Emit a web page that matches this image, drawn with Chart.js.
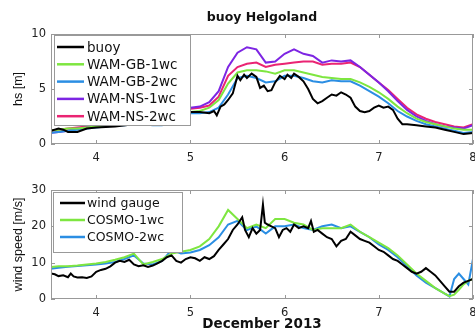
<!DOCTYPE html>
<html>
<head>
<meta charset="utf-8">
<script src="https://cdn.jsdelivr.net/npm/chart.js@4.4.1/dist/chart.umd.min.js"></script>
<style>
  html, body { margin: 0; padding: 0; background: #fff; }
  #wrap { position: relative; width: 475px; height: 333px; overflow: hidden; }
  canvas { position: absolute; left: 0; }
  #hsChart { top: 0; }
  #windChart { top: 170px; }
</style>
</head>
<body>
<div id="wrap">
  <canvas id="hsChart" width="475" height="170"></canvas>
  <canvas id="windChart" width="475" height="163"></canvas>
</div>
<script>
// days of December 2013
const xTicks = [4, 5, 6, 7, 8];
const hsTicks = [0, 5, 10];
const windTicks = [0, 10, 20, 30];

// significant wave height [m], buoy Helgoland
const tBuoy = [3.52, 3.6, 3.65, 3.7, 3.8, 3.9, 4.0, 4.2, 4.4, 4.6, 4.8, 5.0, 5.1, 5.2, 5.25, 5.28, 5.32, 5.36, 5.4, 5.45,
  5.5, 5.53, 5.57, 5.6, 5.65, 5.7, 5.74, 5.78, 5.82, 5.86, 5.9, 5.95, 6.0, 6.03, 6.07, 6.1, 6.15, 6.2, 6.25, 6.3,
  6.35, 6.4, 6.45, 6.5, 6.55, 6.6, 6.65, 6.7, 6.75, 6.8, 6.85, 6.9, 6.95, 7.0, 7.05, 7.1, 7.15, 7.2, 7.25, 7.3,
  7.4, 7.5, 7.6, 7.7, 7.8, 7.9, 8.0];
const buoyHs = [1.2, 1.4, 1.3, 1.1, 1.1, 1.4, 1.5, 1.6, 1.8, 2.0, 2.3, 2.9, 2.9, 2.8, 3.0, 2.6, 3.4, 3.6, 4.0, 4.6,
  6.2, 5.8, 6.3, 6.0, 6.4, 6.1, 5.1, 5.3, 4.8, 4.9, 5.6, 6.2, 5.9, 6.3, 6.0, 6.4, 6.1, 5.7, 5.0, 4.1,
  3.7, 3.9, 4.2, 4.5, 4.4, 4.7, 4.5, 4.2, 3.4, 3.0, 2.9, 3.0, 3.3, 3.5, 3.3, 3.4, 3.1, 2.3, 1.8, 1.8,
  1.7, 1.6, 1.5, 1.3, 1.1, 0.9, 1.0];

const tModel = [3.5, 3.6, 3.7, 3.8, 3.9, 4.0, 4.1, 4.2, 4.3, 4.4, 4.5, 4.6, 4.7, 4.8, 4.9,
  5.0, 5.1, 5.2, 5.3, 5.4, 5.5, 5.6, 5.7, 5.8, 5.9, 6.0, 6.1, 6.2, 6.3, 6.4,
  6.5, 6.6, 6.7, 6.8, 6.9, 7.0, 7.1, 7.2, 7.3, 7.4, 7.5, 7.6, 7.7, 7.8, 7.9, 8.0];
const gb1wcHs = [1.2, 1.3, 1.4, 1.4, 1.5, 1.6, 1.7, 1.8, 1.8, 1.9, 1.9, 2.0, 2.2, 2.4, 2.6,
  2.9, 3.0, 3.3, 4.0, 5.5, 6.5, 6.7, 6.7, 6.6, 6.4, 6.7, 6.7, 6.5, 6.3, 6.1,
  6.0, 5.9, 5.9, 5.6, 5.2, 4.7, 4.1, 3.4, 2.8, 2.3, 2.0, 1.8, 1.6, 1.4, 1.3, 1.3];
const gb2wcHs = [1.0, 1.1, 1.2, 1.3, 1.4, 1.5, 1.6, 1.7, 1.7, 1.8, 1.8, 1.7, 1.7, 2.1, 2.5,
  2.8, 2.8, 2.9, 3.3, 4.5, 6.0, 6.2, 6.0, 5.6, 5.7, 6.2, 6.2, 6.0, 5.7, 5.6,
  5.8, 5.7, 5.7, 5.3, 4.8, 4.3, 3.7, 3.0, 2.5, 2.1, 1.8, 1.6, 1.4, 1.2, 1.0, 1.1];
const ns1wcHs = [1.0, 1.1, 1.2, 1.4, 1.5, 1.6, 1.7, 1.8, 1.9, 2.0, 2.1, 2.3, 2.5, 2.8, 3.1,
  3.3, 3.4, 3.8, 4.8, 7.0, 8.3, 8.8, 8.6, 7.4, 7.5, 8.2, 8.6, 8.2, 8.0, 7.4,
  7.6, 7.5, 7.6, 7.0, 6.3, 5.6, 4.8, 3.9, 3.1, 2.5, 2.1, 1.8, 1.6, 1.5, 1.4, 1.7];
const ns2wcHs = [1.2, 1.3, 1.4, 1.5, 1.6, 1.7, 1.8, 1.9, 2.0, 2.1, 2.2, 2.4, 2.6, 2.8, 3.0,
  3.2, 3.3, 3.5, 4.3, 6.2, 7.0, 7.3, 7.4, 7.0, 7.2, 7.3, 7.4, 7.5, 7.5, 7.2,
  7.3, 7.3, 7.4, 7.0, 6.3, 5.6, 4.9, 4.1, 3.3, 2.7, 2.3, 2.0, 1.8, 1.6, 1.5, 1.8];

// wind speed [m/s]
const tGauge = [3.52, 3.56, 3.6, 3.65, 3.7, 3.73, 3.76, 3.8, 3.85, 3.9, 3.95, 4.0, 4.05, 4.1, 4.15, 4.2, 4.25, 4.3, 4.35, 4.4,
  4.45, 4.5, 4.55, 4.6, 4.65, 4.7, 4.75, 4.8, 4.85, 4.9, 4.95, 5.0, 5.05, 5.1, 5.15, 5.2, 5.25, 5.3, 5.35, 5.4,
  5.45, 5.5, 5.55, 5.58, 5.62, 5.66, 5.7, 5.74, 5.77, 5.79, 5.82, 5.86, 5.9, 5.94, 5.98, 6.02, 6.06, 6.1, 6.15, 6.2,
  6.25, 6.28, 6.31, 6.35, 6.4, 6.45, 6.5, 6.55, 6.6, 6.65, 6.7, 6.75, 6.8, 6.85, 6.9, 6.95, 7.0, 7.05, 7.1, 7.15,
  7.2, 7.25, 7.3, 7.35, 7.4, 7.45, 7.5, 7.55, 7.6, 7.65, 7.7, 7.75, 7.8, 7.85, 7.9, 7.95, 8.0];
const gaugeWind = [7.0, 6.8, 6.3, 6.5, 6.0, 7.0, 6.2, 5.9, 6.0, 5.8, 6.2, 7.5, 8.0, 8.3, 9.0, 10.0, 10.5, 10.2, 10.8, 9.5,
  9.0, 9.3, 8.8, 9.2, 9.8, 10.5, 11.5, 12.0, 10.5, 10.0, 11.0, 11.5, 11.2, 10.5, 11.5, 11.0, 11.8, 13.5, 15.0, 16.5,
  19.0, 20.5, 22.5, 19.0, 17.0, 19.5, 18.0, 19.0, 26.0, 21.0, 20.5, 20.0, 19.5, 17.0, 19.0, 19.5, 18.5, 20.5, 19.5, 20.0,
  19.5, 21.5, 18.5, 19.0, 18.0, 17.0, 16.5, 14.5, 16.0, 16.5, 18.5, 17.5, 16.5, 16.0, 15.5, 14.5, 13.5, 13.0, 12.0, 11.0,
  10.5, 9.5, 8.5, 7.5, 7.0, 7.5, 8.5, 7.5, 6.5, 5.0, 3.5, 2.0, 2.0, 3.5, 4.5, 5.0, 5.5];

const tCosmo = [3.5, 3.6, 3.7, 3.8, 3.9, 4.0, 4.1, 4.2, 4.3, 4.4, 4.5, 4.6, 4.7, 4.8, 4.9,
  5.0, 5.1, 5.2, 5.3, 5.4, 5.5, 5.6, 5.7, 5.8, 5.9, 6.0, 6.1, 6.2, 6.3, 6.4,
  6.5, 6.6, 6.7, 6.8, 6.9, 7.0, 7.1, 7.2, 7.3, 7.4, 7.5, 7.6, 7.7,
  7.75, 7.8, 7.85, 7.9, 7.95, 8.0];
const cosmo1wcWind = [8.8, 9.0, 9.0, 9.2, 9.5, 9.8, 10.2, 10.8, 11.5, 12.5, 9.5, 10.2, 11.0, 12.5, 13.0,
  13.5, 14.5, 16.5, 20.0, 24.5, 22.0, 19.5, 20.5, 19.5, 22.0, 22.0, 21.0, 20.5, 19.0, 19.5,
  19.5, 19.5, 20.5, 18.5, 17.0, 15.5, 14.0, 12.0, 9.5, 7.0, 5.0, 3.0, 1.5,
  0.8, 1.2, 2.5, 4.0, 5.0, 5.5];
const cosmo2wcWind = [8.3, 8.6, 8.9, 9.1, 9.3, 9.5, 9.8, 10.2, 11.0, 12.0, 9.8, 9.5, 10.5, 13.5, 12.5,
  12.8, 13.5, 14.8, 17.0, 20.5, 21.5, 19.0, 20.0, 18.0, 20.0, 20.0, 20.5, 19.5, 19.0, 20.0,
  20.5, 19.5, 20.0, 18.5, 17.0, 15.0, 13.5, 11.5, 9.0, 6.5, 4.5, 3.0, 1.5,
  0.7, 5.5, 7.0, 5.5, 4.0, 11.0];

const pts = (ts, vs) => ts.map((t, i) => ({ x: t, y: vs[i] }));

const line = (label, color, ts, vs) => ({
  label: label,
  data: pts(ts, vs),
  borderColor: color,
  backgroundColor: color,
  borderWidth: 2,
  pointRadius: 0,
  tension: 0,
  fill: false,
});

// matlab style box with inward ticks
const frameTicks = {
  id: "frameTicks",
  afterDatasetsDraw(chart) {
    const { ctx, chartArea: a, scales } = chart;
    ctx.save();
    ctx.strokeStyle = "#999";
    ctx.lineWidth = 1;
    ctx.strokeRect(a.left + 0.5, a.top + 0.5, a.width - 1, a.height - 1);
    ctx.beginPath();
    scales.x.ticks.forEach((t) => {
      const px = Math.round(scales.x.getPixelForValue(t.value)) + 0.5;
      ctx.moveTo(px, a.bottom);
      ctx.lineTo(px, a.bottom - 4);
      ctx.moveTo(px, a.top);
      ctx.lineTo(px, a.top + 4);
    });
    scales.y.ticks.forEach((t) => {
      const py = Math.round(scales.y.getPixelForValue(t.value)) + 0.5;
      ctx.moveTo(a.left, py);
      ctx.lineTo(a.left + 4, py);
      ctx.moveTo(a.right, py);
      ctx.lineTo(a.right - 4, py);
    });
    ctx.stroke();
    ctx.restore();
  },
};

// legend drawn in a box inside the plot, like matlab
const boxLegend = {
  id: "boxLegend",
  afterDraw(chart, args, o) {
    const ctx = chart.ctx;
    ctx.save();
    ctx.fillStyle = "#fff";
    ctx.fillRect(o.x, o.y, o.w, o.h);
    ctx.strokeStyle = "#999";
    ctx.lineWidth = 1;
    ctx.strokeRect(o.x + 0.5, o.y + 0.5, o.w, o.h);
    ctx.font = o.size + "px 'DejaVu Sans'";
    ctx.textBaseline = "middle";
    chart.data.datasets.forEach((ds, i) => {
      const y = o.row0 + i * o.gap;
      ctx.strokeStyle = ds.borderColor;
      ctx.lineWidth = 2.5;
      ctx.beginPath();
      ctx.moveTo(o.lx0, y);
      ctx.lineTo(o.lx1, y);
      ctx.stroke();
      ctx.fillStyle = "#111";
      ctx.fillText(ds.label, o.tx, y + 1);
    });
    ctx.restore();
  },
};

const tickFont = { family: "DejaVu Sans", size: 11.5 };

const makeOptions = (yMin, yMax, yTickVals, yTitle, xHeight, xTitle) => ({
  responsive: false,
  animation: false,
  layout: { padding: { left: 0, right: 2, top: 0, bottom: 0 } },
  scales: {
    x: {
      type: "linear",
      min: 3.52,
      max: 8,
      afterBuildTicks: (s) => { s.ticks = xTicks.map((v) => ({ value: v })); },
      afterFit: (s) => { s.height = xHeight; s.paddingLeft = 0; s.paddingRight = 0; },
      ticks: { font: tickFont, color: "#222", padding: 7, maxRotation: 0, autoSkip: false },
      grid: { display: false, drawTicks: false },
      border: { display: false },
      title: xTitle
        ? { display: true, text: xTitle, color: "#111", font: { family: "DejaVu Sans", size: 13.5, weight: "bold" }, padding: { top: 0, bottom: 0 } }
        : { display: false },
    },
    y: {
      min: yMin,
      max: yMax,
      afterBuildTicks: (s) => { s.ticks = yTickVals.map((v) => ({ value: v })); },
      afterFit: (s) => { s.width = 51; },
      ticks: { font: tickFont, color: "#222", padding: 5 },
      grid: { display: false, drawTicks: false },
      border: { display: false },
      title: { display: true, text: yTitle, color: "#111", font: { family: "Liberation Sans", size: 12.5 }, padding: { top: 11, bottom: 0 } },
    },
  },
});

const hsOptions = makeOptions(0, 10, hsTicks, "hs [m]", 26, null);
hsOptions.plugins = {
  legend: { display: false },
  tooltip: { enabled: false },
  title: {
    display: true,
    text: "buoy Helgoland",
    fullSize: false,
    color: "#111",
    font: { family: "DejaVu Sans", size: 12.5, weight: "bold" },
    padding: { top: 10, bottom: 9 },
  },
  boxLegend: { x: 54, y: 35, w: 136, h: 90, row0: 47, gap: 17.3, lx0: 57, lx1: 84, tx: 87, size: 13.5 },
};

new Chart(document.getElementById("hsChart"), {
  type: "line",
  data: {
    datasets: [
      line("buoy", "#000000", tBuoy, buoyHs),
      line("WAM-GB-1wc", "#7ee640", tModel, gb1wcHs),
      line("WAM-GB-2wc", "#2b8ee3", tModel, gb2wcHs),
      line("WAM-NS-1wc", "#7d25e3", tModel, ns1wcHs),
      line("WAM-NS-2wc", "#ea2473", tModel, ns2wcHs),
    ],
  },
  options: hsOptions,
  plugins: [frameTicks, boxLegend],
});

const windOptions = makeOptions(0, 30, windTicks, "wind speed [m/s]", 34, "December 2013");
windOptions.layout.padding.top = 20;
windOptions.plugins = {
  legend: { display: false },
  tooltip: { enabled: false },
  boxLegend: { x: 53, y: 22, w: 129, h: 60, row0: 33, gap: 17, lx0: 60, lx1: 85, tx: 87, size: 12.5 },
};

new Chart(document.getElementById("windChart"), {
  type: "line",
  data: {
    datasets: [
      line("wind gauge", "#000000", tGauge, gaugeWind),
      line("COSMO-1wc", "#7ee640", tCosmo, cosmo1wcWind),
      line("COSMO-2wc", "#2b8ee3", tCosmo, cosmo2wcWind),
    ],
  },
  options: windOptions,
  plugins: [frameTicks, boxLegend],
});
</script>
</body>
</html>
